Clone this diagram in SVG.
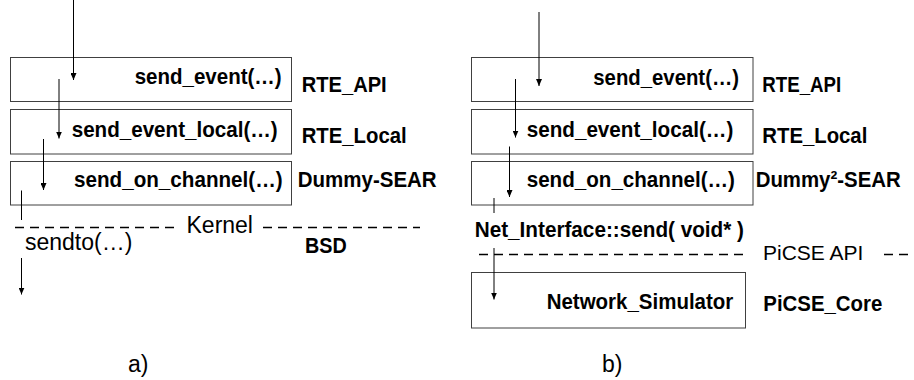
<svg xmlns="http://www.w3.org/2000/svg" width="914" height="380" viewBox="0 0 914 380">
<style>
.box{fill:#fff;stroke:#404040;stroke-width:1}
.b{font-family:"Liberation Sans",Arial,sans-serif;font-weight:bold;font-size:22.5px;fill:#000}
.r{font-family:"Liberation Sans",Arial,sans-serif;font-size:23px;fill:#000}
.ln{stroke:#000;stroke-width:1;fill:none}
.dash{stroke:#000;stroke-width:1.3;stroke-dasharray:9 6;fill:none}
</style>
<defs>
<marker id="ah" viewBox="0 0 7 6" refX="7" refY="3" markerWidth="7" markerHeight="6" markerUnits="userSpaceOnUse" orient="auto">
<path d="M0,0 L7,3 L0,6 z" fill="#000"/>
</marker>
</defs>

<g id="a-rte-api">
<rect class="box" x="10.5" y="57.5" width="281" height="44"/>
<text class="b" x="134.7" y="84" textLength="147" lengthAdjust="spacingAndGlyphs">send_event(…)</text>
<text class="b" x="301.7" y="92" textLength="85" lengthAdjust="spacingAndGlyphs">RTE_API</text>
</g>
<g id="a-rte-local">
<rect class="box" x="10.5" y="109.5" width="281" height="44.5"/>
<text class="b" x="71.7" y="137" textLength="206" lengthAdjust="spacingAndGlyphs">send_event_local(…)</text>
<text class="b" x="301.7" y="143" textLength="105" lengthAdjust="spacingAndGlyphs">RTE_Local</text>
</g>
<g id="a-dummy-sear">
<rect class="box" x="10.5" y="161.5" width="281" height="43.5"/>
<text class="b" x="74" y="187" textLength="208.7" lengthAdjust="spacingAndGlyphs">send_on_channel(…)</text>
<text class="b" x="297.7" y="187" textLength="139" lengthAdjust="spacingAndGlyphs">Dummy-SEAR</text>
</g>
<g id="a-kernel">
<line class="dash" x1="15" y1="227.5" x2="176" y2="227.5"/>
<text class="r" x="186.5" y="233">Kernel</text>
<line class="dash" x1="263" y1="227.5" x2="420" y2="227.5"/>
<text class="r" x="25" y="250">sendto(…)</text>
<text class="b" x="305" y="253" textLength="41.7" lengthAdjust="spacingAndGlyphs">BSD</text>
</g>
<text class="r" x="128" y="372">a)</text>

<g id="b-rte-api">
<rect class="box" x="471.5" y="57.5" width="281.5" height="44"/>
<text class="b" x="593.3" y="84.5" textLength="145.7" lengthAdjust="spacingAndGlyphs">send_event(…)</text>
<text class="b" x="762.3" y="92" textLength="79" lengthAdjust="spacingAndGlyphs">RTE_API</text>
</g>
<g id="b-rte-local">
<rect class="box" x="471.5" y="109.5" width="281.5" height="44.5"/>
<text class="b" x="526.7" y="137" textLength="206.6" lengthAdjust="spacingAndGlyphs">send_event_local(…)</text>
<text class="b" x="762.3" y="143" textLength="105" lengthAdjust="spacingAndGlyphs">RTE_Local</text>
</g>
<g id="b-dummy2-sear">
<rect class="box" x="471.5" y="161.5" width="281.5" height="43.5"/>
<text class="b" x="526.7" y="187" textLength="208.3" lengthAdjust="spacingAndGlyphs">send_on_channel(…)</text>
<text class="b" x="755.7" y="187" textLength="145" lengthAdjust="spacingAndGlyphs">Dummy²-SEAR</text>
</g>
<text class="b" x="474.7" y="237" textLength="269.3" lengthAdjust="spacingAndGlyphs">Net_Interface::send( void* )</text>
<g id="b-picse-api">
<line class="dash" x1="479" y1="254.5" x2="745" y2="254.5"/>
<text class="r" x="763" y="260" style="font-size:21px">PiCSE API</text>
<line class="dash" x1="884" y1="254.5" x2="914" y2="254.5"/>
</g>
<g id="b-picse-core">
<rect class="box" x="471.5" y="272.5" width="274" height="55.5"/>
<text class="b" x="546.7" y="308.5" textLength="186.6" lengthAdjust="spacingAndGlyphs">Network_Simulator</text>
<text class="b" x="763.3" y="311" textLength="119" lengthAdjust="spacingAndGlyphs">PiCSE_Core</text>
</g>
<text class="r" x="602" y="372">b)</text>

<g id="connectors">
<line class="ln" x1="73.5" y1="0" x2="73.5" y2="80" marker-end="url(#ah)"/>
<line class="ln" x1="59" y1="79" x2="59" y2="138.5" marker-end="url(#ah)"/>
<line class="ln" x1="43.5" y1="139" x2="43.5" y2="190" marker-end="url(#ah)"/>
<line class="ln" x1="21.5" y1="190.5" x2="21.5" y2="220"/>
<line class="ln" x1="21.5" y1="258" x2="21.5" y2="294.5" marker-end="url(#ah)"/>

<line class="ln" x1="539" y1="12" x2="539" y2="86" marker-end="url(#ah)"/>
<line class="ln" x1="515.5" y1="79" x2="515.5" y2="137.5" marker-end="url(#ah)"/>
<line class="ln" x1="509.5" y1="146.5" x2="509.5" y2="197" marker-end="url(#ah)"/>
<line class="ln" x1="494" y1="198" x2="494" y2="213"/>
<line class="ln" x1="494" y1="248" x2="494" y2="299.5" marker-end="url(#ah)"/>
</g>
</svg>
